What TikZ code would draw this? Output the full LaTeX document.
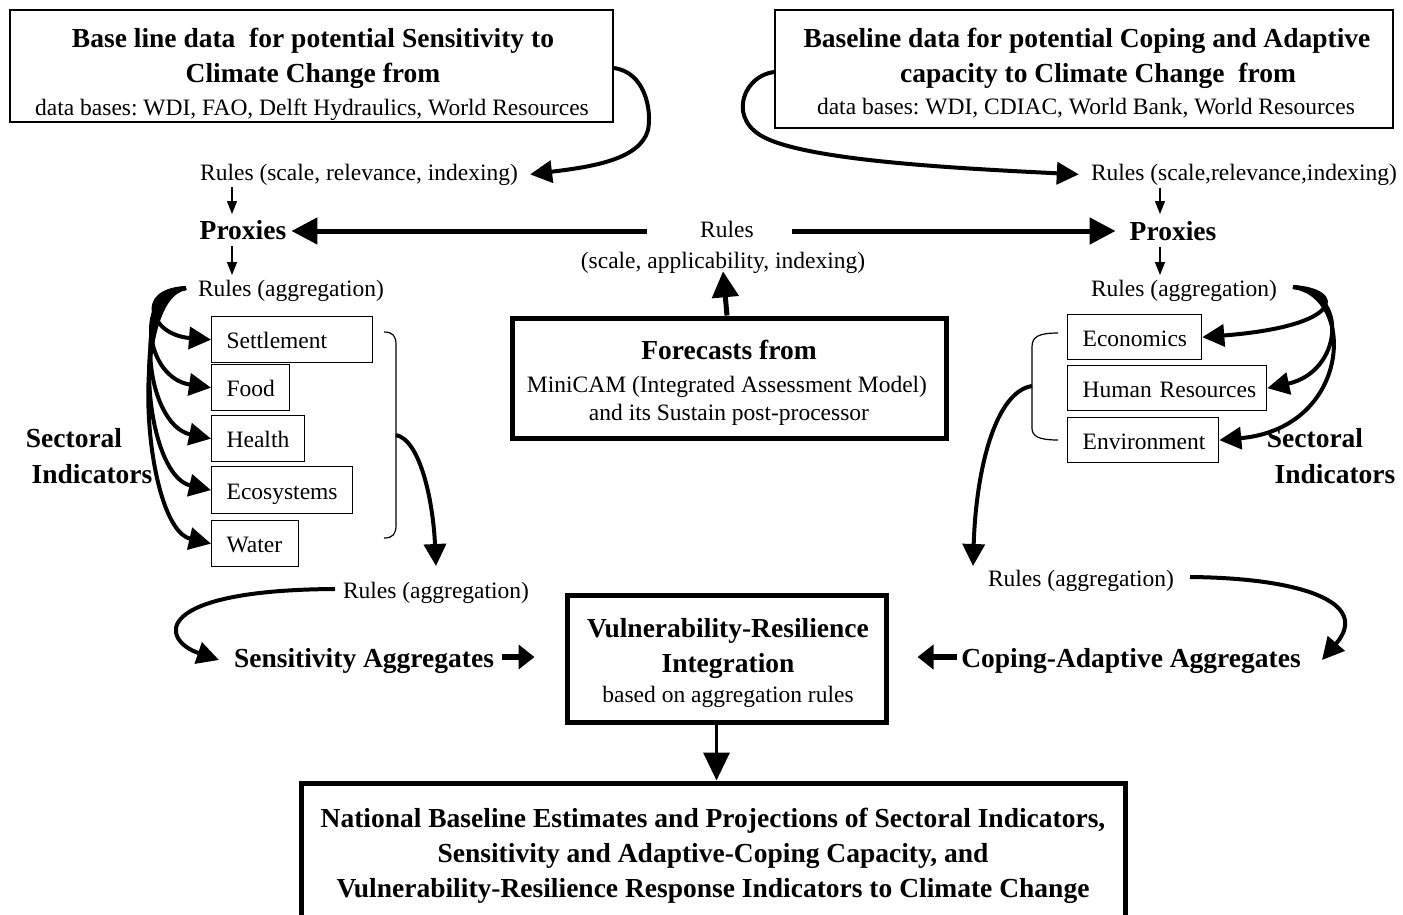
\documentclass[tikz,border=0pt]{standalone}
\usepackage{fontspec}
\setmainfont{Liberation Serif}
\usetikzlibrary{arrows.meta}
\newcommand\txtR{\fontsize{23.5}{28}\selectfont}
\newcommand\txtB{\fontsize{27.5}{33}\selectfont\bfseries}
\frenchspacing
\begin{document}
\begin{tikzpicture}[x=1pt,y=-1pt,
  thinbox/.style={draw, line width=1.3pt, inner sep=0pt},
  thickbox/.style={draw, line width=5pt, inner sep=0pt},
  lbl/.style={anchor=base, inner sep=0pt, font=\txtR},
  blbl/.style={anchor=base, inner sep=0pt, font=\txtB},
  fat/.style={line width=4pt, -{Triangle[length=22pt,width=22pt]}},
  big/.style={line width=5pt, -{Triangle[length=26pt,width=26pt]}},
  stub/.style={line width=6pt, -{Triangle[length=16pt,width=24pt]}},
  slim/.style={line width=1.3pt, -{Triangle[length=13pt,width=10pt]}},
  sect/.style={draw, line width=1.3pt, anchor=north west, inner xsep=15pt, inner ysep=0pt,
    align=left, text height=21pt, text depth=3pt, font=\txtR},
  brk/.style={line width=1.2pt}
]
\useasboundingbox (0,0) rectangle (1403,914);

% ---------- top boxes ----------
\node[thinbox, minimum width=603pt, minimum height=112pt] (tl) at (311.5,66) {};
\node[blbl] (tl1) at (313,47) {Base line data\ \ for potential Sensitivity to};
\node[blbl] (tl2) at (313,82) {Climate Change from};
\node[lbl]  (tl3) at (312,115) {data bases: WDI, FAO, Delft Hydraulics, World Resources};

\node[thinbox, minimum width=618pt, minimum height=118pt] (tr) at (1084,69) {};
\node[blbl] (tr1) at (1087,47) {Baseline data for potential Coping and Adaptive};
\node[blbl] (tr2) at (1098,82) {capacity to Climate Change\ \ from};
\node[lbl]  (tr3) at (1086,114) {data bases: WDI, CDIAC, World Bank, World Resources};

% ---------- rules / proxies ----------
\node[lbl] (rL1) at (359,180) {Rules (scale, relevance, indexing)};
\node[lbl] (rR1) at (1244,180) {Rules (scale,relevance,indexing)};
\node[blbl] (pL) at (243,239) {Proxies};
\node[blbl] (pR) at (1173,240) {Proxies};
\node[lbl] (aL) at (291,296) {Rules (aggregation)};
\node[lbl] (aR) at (1184,296) {Rules (aggregation)};

\node[lbl] (mr1) at (727,237) {Rules};
\node[lbl] (mr2) at (723,268) {(scale, applicability, indexing)};

% ---------- forecasts ----------
\node[thickbox, minimum width=434pt, minimum height=120pt] (fc) at (729,378) {};
\node[blbl] (fc1) at (729,359) {Forecasts from};
\node[lbl]  (fc2) at (727,392) {MiniCAM (Integrated Assessment Model)};
\node[lbl]  (fc3) at (729,420) {and its Sustain post-processor};

% ---------- left sectors ----------
\node[sect, minimum width=161pt, minimum height=46pt, text width=131pt] (set) at (211,316) {\mbox{Settlement}};
\node[sect, minimum width=78pt,  minimum height=46pt, text width=48pt]  (food) at (211,364) {\mbox{Food}};
\node[sect, minimum width=93pt,  minimum height=46pt, text width=63pt]  (hea) at (211,415) {\mbox{Health}};
\node[sect, minimum width=141pt, minimum height=47pt, text width=111pt] (eco) at (211,466) {\mbox{Ecosystems}};
\node[sect, minimum width=87pt,  minimum height=46pt, text width=57pt]  (wat) at (211,520) {\mbox{Water}};

\node[blbl] (siL1) at (74,447) {Sectoral};
\node[blbl] (siL2) at (92,483) {Indicators};

% ---------- right sectors ----------
\node[sect, minimum width=134pt, minimum height=45pt, text width=104pt] (econ) at (1067,314) {\mbox{Economics}};
\node[sect, minimum width=199pt, minimum height=45pt, text width=169pt] (hr) at (1067,365) {\mbox{Human Resources}};
\node[sect, minimum width=151pt, minimum height=45pt, text width=121pt] (env) at (1067,417) {\mbox{Environment}};

\node[blbl] (siR1) at (1315,447) {Sectoral};
\node[blbl] (siR2) at (1335,483) {Indicators};

% ---------- lower rules / aggregates ----------
\node[lbl] (aL2) at (436,598) {Rules (aggregation)};
\node[lbl] (aR2) at (1081,586) {Rules (aggregation)};
\node[blbl] (sa) at (364,667) {Sensitivity Aggregates};
\node[blbl] (ca) at (1131,667) {Coping-Adaptive Aggregates};

\node[thickbox, minimum width=319pt, minimum height=127pt] (vr) at (726.5,658.5) {};
\node[blbl] (vr1) at (728,637) {Vulnerability-Resilience};
\node[blbl] (vr2) at (728,672) {Integration};
\node[lbl]  (vr3) at (728,702) {based on aggregation rules};

\node[thickbox, minimum width=824pt, minimum height=137pt] (nb) at (713,851.5) {};
\node[blbl] (nb1) at (713,827) {National Baseline Estimates and Projections of Sectoral Indicators,};
\node[blbl] (nb2) at (713,862) {Sensitivity and Adaptive-Coping Capacity, and};
\node[blbl] (nb3) at (713,897) {Vulnerability-Resilience Response Indicators to Climate Change};

% ---------- helper coordinates ----------
\coordinate (hy) at (0,231);
\coordinate (ay) at (0,657);

% ---------- brackets ----------
\coordinate (lbm) at (396,435);
\draw[brk] (384,332) .. controls (393,332) and (396,336) .. (396,345) -- (396,525)
  .. controls (396,534) and (393,538) .. (384,538);
\coordinate (rbm) at (1032,386);
\draw[brk] (1058,333) .. controls (1038,333) and (1032,337) .. (1032,347) -- (1032,428)
  .. controls (1032,436) and (1038,440) .. (1058,440);

% ---------- connectors ----------
% top curves
\draw[fat] ([yshift=-2pt]tl.east) .. controls (645,72) and (652,110) .. (648,130)
  .. controls (640,160) and (590,167) .. ([xshift=12pt]rL1.east);
\draw[fat] ([yshift=-3pt]tr.west) .. controls (745,75) and (728,115) .. (760,135)
  .. controls (800,160) and (950,168) .. ([xshift=-12pt]rR1.west);

% thin vertical arrows
\draw[slim] (232,187) -- (232,214);
\draw[slim] (232,246) -- (232,275);
\draw[slim] (1160,188) -- (1160,214);
\draw[slim] (1160,247) -- (1160,275);

% big horizontal arrows
\draw[big] ([xshift=-53pt]mr1.west |- hy) -- ([xshift=5pt]pL.east |- hy);
\draw[big] ([xshift=38pt]mr1.east |- hy) -- ([xshift=-14pt]pR.west |- hy);
\draw[big] (fc.north -| mr1) -- ([yshift=2pt]mr2.south);

% left fan
\coordinate (lf) at (186,288);
\draw[fat] (lf) .. controls (135,290) and (150,335) .. (set.west);
\draw[fat] (lf) .. controls (133,292) and (145,378) .. (food.west);
\draw[fat] (lf) .. controls (131,294) and (145,425) .. (hea.west);
\draw[fat] (lf) .. controls (129,296) and (144,475) .. (eco.west);
\draw[fat] (lf) .. controls (127,298) and (144,528) .. (wat.west);

% right fan
\coordinate (rf) at (1293,287);
\draw[fat] (rf) .. controls (1345,290) and (1345,326) .. (econ.east);
\draw[fat] (rf) .. controls (1350,292) and (1342,372) .. (hr.east);
\draw[fat] (rf) .. controls (1356,295) and (1352,428) .. (env.east);

% bracket outlets
\draw[fat] (lbm) .. controls (420,440) and (433,500) .. (436,566);
\draw[fat] (rbm) .. controls (995,392) and (976,470) .. (973,566);

% lower curves
\coordinate (lcs) at (335,589);
\coordinate (lce) at (219,660);
\draw[fat] (lcs) .. controls (150,590) and (160,640) .. (lce);
\coordinate (rcs) at (1190,577);
\coordinate (rce) at (1322,660);
\draw[fat] (rcs) .. controls (1300,578) and (1372,602) .. (rce);

% into integration
\draw[stub] ([xshift=8pt]sa.east |- ay) -- ([xshift=-30pt]vr.west |- ay);
\draw[stub] ([xshift=-4pt]ca.west |- ay) -- ([xshift=29pt]vr.east |- ay);

% down to national
\draw[line width=3.5pt, -{Triangle[length=28pt,width=26pt]}] ([xshift=-10pt]vr.south) -- ([xshift=-10pt]vr.south |- nb.north);
\end{tikzpicture}
\end{document}
